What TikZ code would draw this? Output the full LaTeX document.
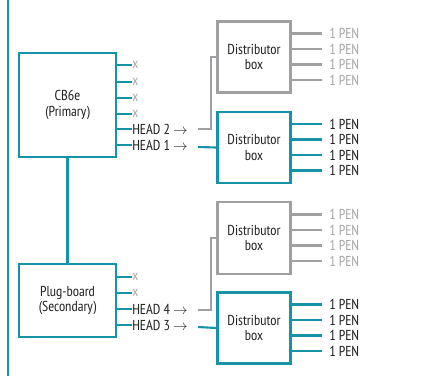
\documentclass[tikz,border=0pt]{standalone}
\usepackage{fontspec}
\setmainfont{PT Sans Narrow}
\definecolor{teal1}{HTML}{1793A8}
\definecolor{gline}{HTML}{A0A0A2}
\definecolor{gtext}{HTML}{A8A8A8}
\definecolor{dtext}{HTML}{222222}
\begin{document}
\begin{tikzpicture}[x=0.75pt,y=-0.75pt,
  font=\fontsize{10.8pt}{11.4pt}\selectfont,
  tbox/.style={draw=teal1,line width=1.6pt,inner sep=0pt,align=center,text=dtext},
  gbox/.style={draw=gline,line width=1.6pt,inner sep=0pt,align=center,text=dtext},
  tline/.style={draw=teal1,line width=1.6pt},
  gline/.style={draw=gline,line width=1.6pt},
  dlab/.style={anchor=west,inner sep=0pt,text=dtext},
  glab/.style={anchor=west,inner sep=0pt,text=gtext}]
\useasboundingbox (0,0) rectangle (434,376);
\draw[tline] (8,0) coordinate (vt) -- (8,376) coordinate (vb);

% main boxes
\node[tbox,minimum width=97*0.75pt,minimum height=104*0.75pt] (cb) at (67.5,105) {CB6e\\(Primary)};
\node[tbox,minimum width=97*0.75pt,minimum height=73*0.75pt] (pb) at (67.5,300.5) {Plug-board\\(Secondary)};
\draw[tline] (cb.south) -- (pb.north);

% CB6e stubs
\foreach \y/\n in {65/a,82/b,98/c,114/d}{
  \node[glab] (cx\n) at (132,\y) {x};
  \draw[tline] (cb.east |- cx\n.west) -- (cx\n.west);
}
\node[dlab] (h2) at (132,129) {HEAD 2 $\rightarrow$};
\node[dlab] (h1) at (132,145) {HEAD 1 $\rightarrow$};
\draw[tline] (cb.east |- h2.west) -- (h2.west);
\draw[tline] (cb.east |- h1.west) -- (h1.west);

% Plug-board stubs
\foreach \y/\n in {277/a,293/b}{
  \node[glab] (px\n) at (132,\y) {x};
  \draw[tline] (pb.east |- px\n.west) -- (px\n.west);
}
\node[dlab] (h4) at (132,309) {HEAD 4 $\rightarrow$};
\node[dlab] (h3) at (132,325) {HEAD 3 $\rightarrow$};
\draw[tline] (pb.east |- h4.west) -- (h4.west);
\draw[tline] (pb.east |- h3.west) -- (h3.west);

% distributor boxes
\node[gbox,minimum width=73*0.75pt,minimum height=71*0.75pt] (d1) at (254,57) {Distributor\\box};
\node[tbox,minimum width=73*0.75pt,minimum height=71*0.75pt] (d2) at (254,147.5) {Distributor\\box};
\node[gbox,minimum width=73*0.75pt,minimum height=72*0.75pt] (d3) at (254,238) {Distributor\\box};
\node[tbox,minimum width=73*0.75pt,minimum height=71*0.75pt] (d4) at (254,328) {Distributor\\box};

% head connectors
\coordinate (h2e) at (198,129);
\coordinate (h1e) at (198,147);
\coordinate (h4e) at (198,310);
\coordinate (h3e) at (198,327);
\draw[gline] (h2e) -- (211,129) |- (d1.west);
\draw[tline] (h1e) -- (d2.west);
\draw[gline] (h4e) -- (211,310) |- (d3.west);
\draw[tline] (h3e) -- (d4.west);

% outputs
\foreach \b/\st/\ls in {d1/gline/glab,d2/tline/dlab,d3/gline/glab,d4/tline/dlab}{
  \foreach \o/\k in {-23.5/1,-8/2,7.5/3,23/4}{
    \node[\ls] (\b p\k) at ([yshift=-\o*0.75pt]\b.center -| 329,0) {1 PEN};
    \draw[\st] (\b.east |- \b p\k.west) -- ++(30,0);
  }
}
\end{tikzpicture}
\end{document}
